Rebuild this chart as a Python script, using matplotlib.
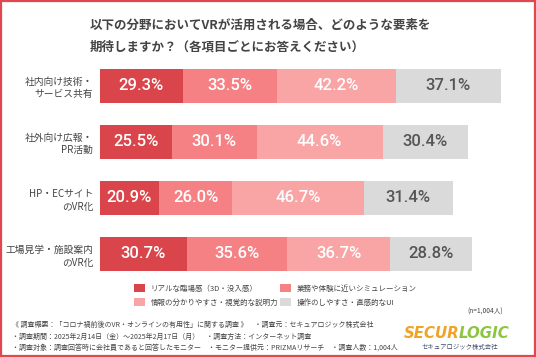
import matplotlib.pyplot as plt
from matplotlib.patches import Rectangle

plt.rcParams['font.family'] = ['Noto Sans CJK JP', 'DejaVu Sans']

# data
categories = ['社内向け技術・\nサービス共有', '社外向け広報・\nPR活動', 'HP・ECサイト\nのVR化', '工場見学・施設案内\nのVR化']
series_names = ['リアルな臨場感（3D・没入感）', '業務や体験に近いシミュレーション',
                '情報の分かりやすさ・視覚的な説明力', '操作のしやすさ・直感的なUI']
values = [
    [29.3, 25.5, 20.9, 30.7],
    [33.5, 30.1, 26.0, 35.6],
    [42.2, 44.6, 46.7, 36.7],
    [37.1, 30.4, 31.4, 28.8],
]
colors = ['#d9454a', '#f58184', '#f9a4a5', '#dadada']
label_colors = ['white', 'white', 'white', '#555555']
title_lines = ['以下の分野においてVRが活用される場合、どのような要素を',
               '期待しますか？（各項目ごとにお答えください）']

W, H = 536, 357
fig = plt.figure(figsize=(W / 100, H / 100), dpi=100)

# red frame
fig.patches.append(Rectangle((0.002, 0.003), 0.996, 0.994, transform=fig.transFigure,
                             fill=False, edgecolor='#e0484e', linewidth=1.6))

for k, line in enumerate(title_lines):
    fig.text(90 / W, 1 - (25 + k * 22) / H, line, ha='left', va='center',
             fontsize=9, fontweight='bold', color='#444444')

# bars
ax = fig.add_axes([100 / W, 1 - 282 / H, 423 / W, 224 / H])
ax.set_xlim(0, 150)
ax.set_ylim(3.5, -0.5)
ypos = range(len(categories))
left = [0] * len(categories)
for i, (vals, name) in enumerate(zip(values, series_names)):
    ax.barh(ypos, vals, left=left, height=0.61, color=colors[i], label=name, linewidth=0)
    for y, v, l in zip(ypos, vals, left):
        ax.text(l + v / 2, y, f'{v:.1f}%', ha='center', va='center', fontsize=12,
                color=label_colors[i], family=['Roboto', 'DejaVu Sans'],
                fontweight='medium')
    left = [l + v for l, v in zip(left, vals)]

ax.set_yticks(list(ypos))
ax.set_yticklabels(categories, fontsize=7, color='#444444', linespacing=1.3)
for t in ax.get_yticklabels():
    t.set_multialignment('right')
ax.tick_params(axis='y', length=0, pad=5)
ax.set_xticks([])
for s in ax.spines.values():
    s.set_visible(False)
ax.patch.set_alpha(0)

# legend
handles, labels = ax.get_legend_handles_labels()
order = [0, 2, 1, 3]
fig.legend([handles[i] for i in order], [labels[i] for i in order], ncol=2,
           loc='upper left', bbox_to_anchor=(131 / W, 1 - 281 / H), frameon=False,
           fontsize=5.4, handlelength=1.4, handleheight=1.3, handletextpad=0.8,
           columnspacing=0.3, labelspacing=0.7, labelcolor='#444444', borderaxespad=0)

fig.text(503 / W, 1 - 312 / H, '(n=1,004人)', ha='right', va='center', fontsize=4.8, color='#444444')

notes = ['《 調査概要：「コロナ禍前後のVR・オンラインの有用性」に関する調査 》　・調査元：セキュアロジック株式会社',
         '・調査期間：2025年2月14日（金）～2025年2月17日（月）　・調査方法：インターネット調査',
         '・調査対象：調査回答時に会社員であると回答したモニター　・モニター提供元：PRIZMAリサーチ　・調査人数：1,004人']
for k, line in enumerate(notes):
    fig.text(12 / W, 1 - (325 + k * 11.5) / H, line, ha='left', va='center', fontsize=5.0, color='#444444')

# logo
fig.text(459 / W, 1 - 333 / H, 'SECUR', ha='right', va='center', fontsize=10.8, fontweight='heavy',
         fontstyle='italic', color='#f0a324', family=['DejaVu Sans'])
fig.text(459 / W, 1 - 333 / H, 'LOGIC', ha='left', va='center', fontsize=10.8, fontweight='heavy',
         fontstyle='italic', color='#8cc540', family=['DejaVu Sans'])
fig.text(460 / W, 1 - 347 / H, 'セキュアロジック株式会社', ha='center', va='center', fontsize=4.6,
         color='#3d4a6b')

fig.savefig('out.png', dpi=100)
